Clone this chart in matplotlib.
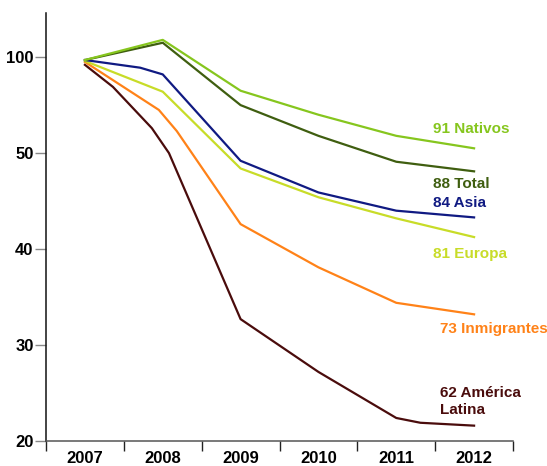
import matplotlib
matplotlib.use("Agg")
import matplotlib.pyplot as plt

# ---- data (index, 2007 = 100) ----
years = ["2007", "2008", "2009", "2010", "2011", "2012"]

nativos_x = [0, 1, 2, 3, 4, 5]
nativos_y = [99.7, 101.8, 96.5, 94.0, 91.8, 90.5]

total_x = [0, 1, 2, 3, 4, 5]
total_y = [99.7, 101.5, 95.0, 91.8, 89.1, 88.1]

asia_x = [0, 0.71, 1, 2, 3, 4, 5]
asia_y = [99.7, 98.9, 98.2, 89.2, 85.9, 84.0, 83.3]

europa_x = [0, 1, 2, 3, 4, 5]
europa_y = [99.6, 96.4, 88.4, 85.4, 83.2, 81.25]

inmig_x = [0, 0.95, 1.18, 2, 3, 4, 5]
inmig_y = [99.5, 94.5, 92.3, 82.6, 78.1, 74.4, 73.2]

latina_x = [0, 0.36, 0.86, 1.08, 2, 3, 4, 4.31, 5]
latina_y = [99.2, 96.9, 92.6, 90.0, 72.7, 67.2, 62.4, 61.9, 61.6]

ytick_vals = [100, 90, 80, 70, 60]
ytick_labels = ["100", "50", "40", "30", "20"]

labels = ["91 Nativos", "88 Total", "84 Asia", "81 Europa",
          "73 Inmigrantes", "62 América\nLatina"]

colors = {
    "nativos": "#86c61e",
    "total": "#3f5e10",
    "asia": "#101a82",
    "europa": "#c8dc28",
    "inmig": "#ff8218",
    "latina": "#4a0c0c",
}

plt.rcParams['font.family'] = ['Liberation Sans', 'DejaVu Sans']
FS_TICK = 12
FS_LAB = 11

fig = plt.figure(figsize=(5.47, 4.66), dpi=100)
ax = fig.add_axes([46 / 547, 1 - 441 / 466, (513 - 46) / 547, (441 - 13) / 466])

lw = 1.6
ax.plot(latina_x, latina_y, color=colors["latina"], lw=lw)
ax.plot(inmig_x, inmig_y, color=colors["inmig"], lw=lw)
ax.plot(europa_x, europa_y, color=colors["europa"], lw=lw)
ax.plot(asia_x, asia_y, color=colors["asia"], lw=lw)
ax.plot(total_x, total_y, color=colors["total"], lw=lw)
ax.plot(nativos_x, nativos_y, color=colors["nativos"], lw=lw)

ax.set_xlim(-0.5, 5.5)
ax.set_ylim(60, 104.6)

# x ticks at band edges, labels at band centers
ax.set_xticks([i - 0.5 for i in range(len(years) + 1)])
ax.set_xticklabels([])
ax.set_xticks(range(len(years)), minor=True)
ax.set_xticklabels(years, minor=True, fontsize=FS_TICK, fontweight='bold')
ax.tick_params(axis='x', which='major', length=7, width=1, color='#222222', direction='out')
ax.tick_params(axis='x', which='minor', length=0, pad=7)

ax.set_yticks(ytick_vals)
ax.set_yticklabels(ytick_labels, fontsize=FS_TICK, fontweight='bold')
ax.tick_params(axis='y', length=8, width=1, color='#888888', pad=1)

for s in ["top", "right"]:
    ax.spines[s].set_visible(False)
ax.spines["left"].set_color("#111111")
ax.spines["bottom"].set_color("#555555")
ax.spines["left"].set_linewidth(1.1)
ax.spines["bottom"].set_linewidth(1.1)

# end labels
lab_pos = [
    (4.47, 92.5, colors["nativos"]),
    (4.47, 86.8, colors["total"]),
    (4.47, 84.8, colors["asia"]),
    (4.47, 79.5, colors["europa"]),
    (4.56, 71.7, colors["inmig"]),
    (4.56, 64.1, colors["latina"]),
]
for txt, (x, y, c) in zip(labels, lab_pos):
    ax.text(x, y, txt, color=c, fontsize=FS_LAB, fontweight='bold',
            ha='left', va='center', linespacing=1.3, clip_on=False)

fig.savefig("out.png", dpi=100)
